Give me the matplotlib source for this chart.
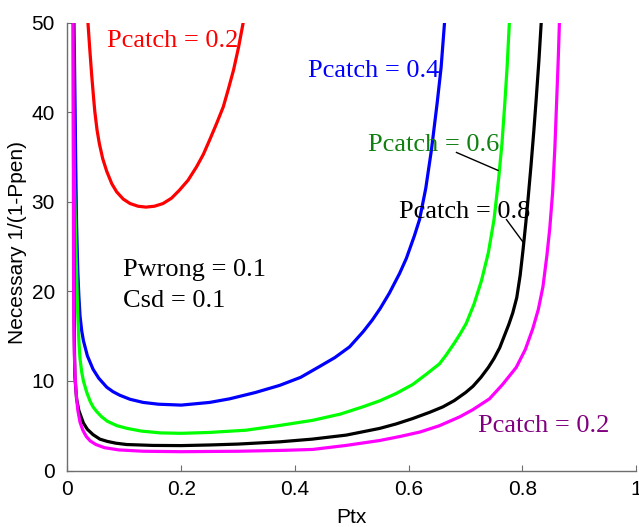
import matplotlib
matplotlib.use("Agg")
import matplotlib.pyplot as plt

# values (x = Ptx, y = necessary 1/(1-Ppen))
red_x = [0.036, 0.039, 0.0425, 0.0455, 0.048, 0.052, 0.056, 0.062, 0.069,
         0.078, 0.0865, 0.098, 0.110, 0.124, 0.138, 0.153, 0.168, 0.183,
         0.197, 0.212, 0.227, 0.239, 0.250, 0.262, 0.274, 0.283, 0.292,
         0.301, 0.309]
red_y = [50.0, 47.2, 44.2, 41.9, 40.1, 38.0, 36.5, 34.8, 33.4,
         32.0, 31.1, 30.3, 29.8, 29.5, 29.4, 29.5, 29.8, 30.4,
         31.3, 32.4, 33.9, 35.3, 36.9, 38.7, 40.6, 42.6, 44.7,
         47.3, 50.0]

blue_x = [0.0115, 0.0125, 0.0135, 0.0145, 0.016, 0.018, 0.020, 0.022, 0.025,
          0.028, 0.035, 0.045, 0.055, 0.069, 0.080, 0.092, 0.110, 0.133,
          0.160, 0.200, 0.250, 0.285, 0.330, 0.373, 0.410, 0.443, 0.470,
          0.496, 0.520, 0.536, 0.550, 0.566, 0.584, 0.596, 0.610, 0.619,
          0.630, 0.640, 0.650, 0.657, 0.663]
blue_y = [50.0, 45.0, 40.0, 34.0, 27.5, 22.5, 19.5, 17.3, 15.6,
          14.5, 12.8, 11.3, 10.3, 9.3, 8.8, 8.4, 7.95, 7.6,
          7.4, 7.3, 7.6, 8.0, 8.7, 9.5, 10.4, 11.6, 12.6,
          13.8, 15.5, 16.8, 18.1, 19.8, 22.0, 23.7, 26.2, 28.0,
          31.5, 35.8, 41.0, 45.0, 50.0]

green_x = [0.0105, 0.011, 0.012, 0.014, 0.016, 0.018, 0.020, 0.022, 0.025,
           0.028, 0.034, 0.040, 0.045, 0.051, 0.060, 0.070, 0.087, 0.105,
           0.130, 0.163, 0.200, 0.250, 0.314, 0.370, 0.431, 0.480, 0.519,
           0.550, 0.578, 0.607, 0.630, 0.654, 0.666, 0.680, 0.690, 0.701,
           0.715, 0.728, 0.740, 0.750, 0.758, 0.764, 0.769, 0.773, 0.777]
green_y = [50.0, 40.0, 33.0, 27.0, 22.0, 17.5, 14.5, 12.5, 11.0,
           10.0, 8.7, 7.7, 7.1, 6.6, 6.0, 5.5, 5.0, 4.7,
           4.4, 4.2, 4.15, 4.25, 4.5, 5.0, 5.6, 6.3, 7.1,
           7.8, 8.6, 9.6, 10.7, 11.9, 12.9, 14.2, 15.2, 16.4,
           18.6, 21.2, 24.3, 28.0, 32.5, 36.5, 41.0, 45.0, 50.0]

black_x = [0.0102, 0.0107, 0.0113, 0.012, 0.013, 0.016, 0.020, 0.028, 0.035,
           0.045, 0.057, 0.070, 0.085, 0.104, 0.150, 0.200, 0.250, 0.300,
           0.373, 0.430, 0.490, 0.549, 0.578, 0.607, 0.637, 0.660, 0.680,
           0.700, 0.713, 0.727, 0.740, 0.750, 0.760, 0.768, 0.776, 0.783,
           0.790, 0.796, 0.801, 0.806, 0.810, 0.815, 0.820, 0.824, 0.829,
           0.833]
black_y = [50.0, 35.0, 22.0, 15.0, 10.5, 8.0, 6.7, 5.3, 4.6,
           4.0, 3.5, 3.25, 3.05, 2.9, 2.8, 2.78, 2.85, 2.95,
           3.2, 3.5, 3.95, 4.7, 5.2, 5.8, 6.5, 7.1, 7.8,
           8.7, 9.4, 10.4, 11.5, 12.5, 13.7, 15.0, 16.3, 17.6,
           19.3, 21.8, 24.6, 27.7, 30.4, 34.0, 37.9, 41.3, 45.8,
           50.0]

magenta_x = [0.0100, 0.0103, 0.0107, 0.011, 0.012, 0.0135, 0.015, 0.018, 0.022,
             0.027, 0.033, 0.040, 0.050, 0.065, 0.090, 0.133, 0.200, 0.300,
             0.380, 0.431, 0.490, 0.549, 0.585, 0.620, 0.654, 0.690, 0.713,
             0.742, 0.765, 0.789, 0.805, 0.818, 0.828, 0.836, 0.843, 0.848,
             0.853, 0.857, 0.860, 0.863, 0.865]
magenta_y = [50.0, 35.0, 22.0, 17.0, 13.0, 10.5, 8.8, 6.8, 5.4,
             4.5, 3.8, 3.3, 2.9, 2.55, 2.3, 2.15, 2.1, 2.15,
             2.25, 2.35, 2.8, 3.35, 3.8, 4.3, 5.0, 6.0, 6.8,
             8.0, 9.6, 11.5, 13.5, 15.8, 18.0, 20.5, 24.0, 27.0,
             31.0, 36.0, 41.0, 46.0, 50.0]

curves = [
    (red_x, red_y, "#ff0000"),
    (blue_x, blue_y, "#0000ff"),
    (green_x, green_y, "#00ff00"),
    (black_x, black_y, "#000000"),
    (magenta_x, magenta_y, "#ff00ff"),
]

x_ticks = [0, 0.2, 0.4, 0.6, 0.8, 1]
x_tick_labels = ["0", "0.2", "0.4", "0.6", "0.8", "1"]
y_ticks = [0, 10, 20, 30, 40, 50]

serif = "Liberation Serif"
sans = "Liberation Sans"

fig = plt.figure(figsize=(6.39, 5.27), dpi=100)
ax = fig.add_axes([0.1056, 0.1072, 0.890, 0.850])

for xs, ys, col in curves:
    ax.plot(xs, ys, color=col, lw=2.3, solid_joinstyle="round")

ax.set_xlim(0, 1)
ax.set_ylim(0, 50)
ax.set_xticks(x_ticks)
ax.set_xticklabels(x_tick_labels)
ax.set_yticks(y_ticks)
for s in ("top", "right"):
    ax.spines[s].set_visible(False)
for s in ("left", "bottom"):
    ax.spines[s].set_color("#6e6e6e")
    ax.spines[s].set_linewidth(1.0)
ax.tick_params(direction="in", length=4, color="#6e6e6e", labelsize=15,
               labelcolor="black")
ax.tick_params(axis="x", pad=7)
ax.tick_params(axis="y", pad=9)
for lab in ax.get_xticklabels() + ax.get_yticklabels():
    lab.set_fontfamily(sans)

ax.set_xlabel("Ptx", fontsize=15, family=sans, labelpad=6)
ax.set_ylabel("Necessary 1/(1-Ppen)", fontsize=15, family=sans)
ax.yaxis.set_label_coords(-0.072, 0.51)

# curve labels
ax.text(0.069, 47.9, "Pcatch = 0.2", color="#ff0000", fontsize=19,
        family=serif, va="center")
ax.text(0.423, 44.6, "Pcatch = 0.4", color="#0000ff", fontsize=19,
        family=serif, va="center")
ax.text(0.528, 36.3, "Pcatch = 0.6", color="#108010", fontsize=19,
        family=serif, va="center")
ax.text(0.583, 28.8, "Pcatch = 0.8", color="black", fontsize=19,
        family=serif, va="center")
ax.text(0.722, 5.0, "Pcatch = 0.2", color="#800080", fontsize=19,
        family=serif, va="center")
ax.text(0.098, 22.4, "Pwrong = 0.1", color="black", fontsize=19,
        family=serif, va="center")
ax.text(0.098, 18.9, "Csd = 0.1", color="black", fontsize=19,
        family=serif, va="center")

# leader lines
ax.plot([0.684, 0.757], [35.5, 33.5], color="black", lw=1.0)
ax.plot([0.772, 0.801], [28.0, 25.5], color="black", lw=1.0)

fig.savefig("out.png", dpi=100)
